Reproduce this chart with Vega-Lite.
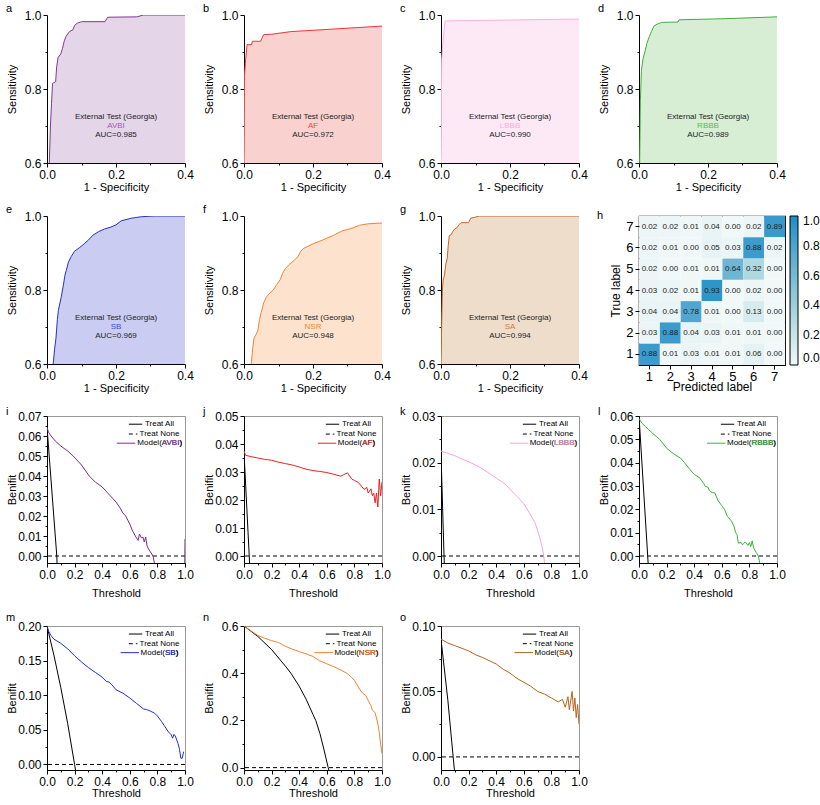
{
"$schema": "https://vega.github.io/schema/vega-lite/v6.json",
"background": "white",
"padding": {"left": 5, "top": 3, "right": 0, "bottom": 0},
"columns": 4,
"align": "each",
"spacing": {"row": 12, "column": 8},
"resolve": {"scale": {"color": "independent"}, "legend": {"color": "independent"}},
"datasets": {
"roc": [
{"p":"a","x":0.0067,"y":0.6},{"p":"a","x":0.01,"y":0.7},{"p":"a","x":0.013,"y":0.76},{"p":"a","x":0.016,"y":0.815},{"p":"a","x":0.025,"y":0.82},{"p":"a","x":0.028,"y":0.86},{"p":"a","x":0.032,"y":0.885},{"p":"a","x":0.04,"y":0.895},{"p":"a","x":0.045,"y":0.91},{"p":"a","x":0.05,"y":0.93},{"p":"a","x":0.055,"y":0.942},{"p":"a","x":0.065,"y":0.955},{"p":"a","x":0.075,"y":0.96},{"p":"a","x":0.08,"y":0.972},{"p":"a","x":0.088,"y":0.978},{"p":"a","x":0.1,"y":0.982},{"p":"a","x":0.168,"y":0.982},{"p":"a","x":0.176,"y":0.994},{"p":"a","x":0.26,"y":0.995},{"p":"a","x":0.28,"y":1.0},{"p":"a","x":0.4,"y":1.0},
{"p":"b","x":0,"y":0.6},{"p":"b","x":0.001,"y":0.83},{"p":"b","x":0.004,"y":0.87},{"p":"b","x":0.007,"y":0.9},{"p":"b","x":0.009,"y":0.92},{"p":"b","x":0.022,"y":0.92},{"p":"b","x":0.024,"y":0.929},{"p":"b","x":0.048,"y":0.929},{"p":"b","x":0.057,"y":0.947},{"p":"b","x":0.08,"y":0.948},{"p":"b","x":0.135,"y":0.955},{"p":"b","x":0.4,"y":0.97},
{"p":"c","x":0,"y":0.6},{"p":"c","x":0.002,"y":0.88},{"p":"c","x":0.006,"y":0.93},{"p":"c","x":0.012,"y":0.984},{"p":"c","x":0.4,"y":0.989},
{"p":"d","x":0.002,"y":0.6},{"p":"d","x":0.004,"y":0.77},{"p":"d","x":0.007,"y":0.85},{"p":"d","x":0.012,"y":0.883},{"p":"d","x":0.017,"y":0.9},{"p":"d","x":0.023,"y":0.924},{"p":"d","x":0.03,"y":0.942},{"p":"d","x":0.036,"y":0.955},{"p":"d","x":0.043,"y":0.97},{"p":"d","x":0.052,"y":0.975},{"p":"d","x":0.065,"y":0.98},{"p":"d","x":0.113,"y":0.981},{"p":"d","x":0.116,"y":0.987},{"p":"d","x":0.25,"y":0.99},{"p":"d","x":0.4,"y":0.995},
{"p":"e","x":0.018,"y":0.6},{"p":"e","x":0.022,"y":0.64},{"p":"e","x":0.026,"y":0.67},{"p":"e","x":0.03,"y":0.72},{"p":"e","x":0.033,"y":0.745},{"p":"e","x":0.041,"y":0.78},{"p":"e","x":0.048,"y":0.816},{"p":"e","x":0.052,"y":0.84},{"p":"e","x":0.056,"y":0.853},{"p":"e","x":0.062,"y":0.875},{"p":"e","x":0.07,"y":0.89},{"p":"e","x":0.08,"y":0.905},{"p":"e","x":0.095,"y":0.915},{"p":"e","x":0.108,"y":0.925},{"p":"e","x":0.12,"y":0.935},{"p":"e","x":0.133,"y":0.948},{"p":"e","x":0.15,"y":0.958},{"p":"e","x":0.167,"y":0.965},{"p":"e","x":0.185,"y":0.97},{"p":"e","x":0.2,"y":0.976},{"p":"e","x":0.215,"y":0.987},{"p":"e","x":0.244,"y":0.994},{"p":"e","x":0.273,"y":0.998},{"p":"e","x":0.31,"y":1.0},{"p":"e","x":0.4,"y":1.0},
{"p":"f","x":0.021,"y":0.6},{"p":"f","x":0.025,"y":0.64},{"p":"f","x":0.029,"y":0.67},{"p":"f","x":0.035,"y":0.68},{"p":"f","x":0.04,"y":0.69},{"p":"f","x":0.045,"y":0.72},{"p":"f","x":0.05,"y":0.74},{"p":"f","x":0.057,"y":0.765},{"p":"f","x":0.064,"y":0.78},{"p":"f","x":0.075,"y":0.792},{"p":"f","x":0.085,"y":0.8},{"p":"f","x":0.095,"y":0.815},{"p":"f","x":0.105,"y":0.828},{"p":"f","x":0.112,"y":0.845},{"p":"f","x":0.12,"y":0.858},{"p":"f","x":0.13,"y":0.868},{"p":"f","x":0.145,"y":0.88},{"p":"f","x":0.156,"y":0.89},{"p":"f","x":0.165,"y":0.905},{"p":"f","x":0.172,"y":0.912},{"p":"f","x":0.185,"y":0.918},{"p":"f","x":0.2,"y":0.925},{"p":"f","x":0.22,"y":0.932},{"p":"f","x":0.24,"y":0.94},{"p":"f","x":0.26,"y":0.948},{"p":"f","x":0.285,"y":0.96},{"p":"f","x":0.31,"y":0.966},{"p":"f","x":0.335,"y":0.975},{"p":"f","x":0.36,"y":0.979},{"p":"f","x":0.4,"y":0.981},
{"p":"g","x":0,"y":0.6},{"p":"g","x":0.002,"y":0.71},{"p":"g","x":0.004,"y":0.8},{"p":"g","x":0.006,"y":0.825},{"p":"g","x":0.01,"y":0.84},{"p":"g","x":0.014,"y":0.87},{"p":"g","x":0.018,"y":0.885},{"p":"g","x":0.021,"y":0.92},{"p":"g","x":0.024,"y":0.947},{"p":"g","x":0.03,"y":0.95},{"p":"g","x":0.034,"y":0.958},{"p":"g","x":0.04,"y":0.965},{"p":"g","x":0.046,"y":0.968},{"p":"g","x":0.052,"y":0.976},{"p":"g","x":0.058,"y":0.982},{"p":"g","x":0.08,"y":0.982},{"p":"g","x":0.086,"y":0.994},{"p":"g","x":0.1,"y":0.997},{"p":"g","x":0.11,"y":1.0},{"p":"g","x":0.4,"y":1.0}
],
"dca": [
{"p":"i","s":"a","t":0,"nb":0.0645},{"p":"i","s":"a","t":0.071,"nb":0},{"p":"i","s":"a","t":0.073,"nb":-0.004},
{"p":"i","s":"m","t":0,"nb":0.0645},{"p":"i","s":"m","t":0.01,"nb":0.062},{"p":"i","s":"m","t":0.03,"nb":0.06},{"p":"i","s":"m","t":0.06,"nb":0.0575},{"p":"i","s":"m","t":0.1,"nb":0.055},{"p":"i","s":"m","t":0.15,"nb":0.0525},{"p":"i","s":"m","t":0.19,"nb":0.05},{"p":"i","s":"m","t":0.25,"nb":0.0455},{"p":"i","s":"m","t":0.306,"nb":0.04},{"p":"i","s":"m","t":0.35,"nb":0.037},{"p":"i","s":"m","t":0.4,"nb":0.0345},{"p":"i","s":"m","t":0.46,"nb":0.03},{"p":"i","s":"m","t":0.5,"nb":0.027},{"p":"i","s":"m","t":0.53,"nb":0.024},{"p":"i","s":"m","t":0.55,"nb":0.0215},{"p":"i","s":"m","t":0.57,"nb":0.02},{"p":"i","s":"m","t":0.6,"nb":0.016},{"p":"i","s":"m","t":0.62,"nb":0.0125},{"p":"i","s":"m","t":0.64,"nb":0.01},{"p":"i","s":"m","t":0.66,"nb":0.0078},{"p":"i","s":"m","t":0.67,"nb":0.011},{"p":"i","s":"m","t":0.685,"nb":0.009},{"p":"i","s":"m","t":0.695,"nb":0.0095},{"p":"i","s":"m","t":0.705,"nb":0.007},{"p":"i","s":"m","t":0.715,"nb":0.0095},{"p":"i","s":"m","t":0.725,"nb":0.005},{"p":"i","s":"m","t":0.74,"nb":0.003},{"p":"i","s":"m","t":0.76,"nb":0.001},{"p":"i","s":"m","t":0.77,"nb":-0.0005},{"p":"i","s":"m","t":0.78,"nb":-0.004},{"p":"i","s":"m","t":0.998,"nb":-0.004},{"p":"i","s":"m","t":1.0,"nb":0.0085},
{"p":"j","s":"a","t":0,"nb":0.037},{"p":"j","s":"a","t":0.038,"nb":0},{"p":"j","s":"a","t":0.042,"nb":-0.004},
{"p":"j","s":"m","t":0,"nb":0.0375},{"p":"j","s":"m","t":0.01,"nb":0.036},{"p":"j","s":"m","t":0.05,"nb":0.0355},{"p":"j","s":"m","t":0.1,"nb":0.035},{"p":"j","s":"m","t":0.15,"nb":0.0345},{"p":"j","s":"m","t":0.2,"nb":0.0342},{"p":"j","s":"m","t":0.25,"nb":0.0335},{"p":"j","s":"m","t":0.3,"nb":0.033},{"p":"j","s":"m","t":0.35,"nb":0.0325},{"p":"j","s":"m","t":0.4,"nb":0.0318},{"p":"j","s":"m","t":0.45,"nb":0.031},{"p":"j","s":"m","t":0.5,"nb":0.0305},{"p":"j","s":"m","t":0.55,"nb":0.0302},{"p":"j","s":"m","t":0.6,"nb":0.0298},{"p":"j","s":"m","t":0.65,"nb":0.0292},{"p":"j","s":"m","t":0.7,"nb":0.0285},{"p":"j","s":"m","t":0.72,"nb":0.029},{"p":"j","s":"m","t":0.75,"nb":0.0297},{"p":"j","s":"m","t":0.78,"nb":0.0275},{"p":"j","s":"m","t":0.8,"nb":0.027},{"p":"j","s":"m","t":0.83,"nb":0.0262},{"p":"j","s":"m","t":0.85,"nb":0.025},{"p":"j","s":"m","t":0.87,"nb":0.0238},{"p":"j","s":"m","t":0.89,"nb":0.0245},{"p":"j","s":"m","t":0.9,"nb":0.0225},{"p":"j","s":"m","t":0.92,"nb":0.024},{"p":"j","s":"m","t":0.93,"nb":0.0215},{"p":"j","s":"m","t":0.94,"nb":0.0225},{"p":"j","s":"m","t":0.95,"nb":0.019},{"p":"j","s":"m","t":0.96,"nb":0.0225},{"p":"j","s":"m","t":0.97,"nb":0.0175},{"p":"j","s":"m","t":0.98,"nb":0.0275},{"p":"j","s":"m","t":0.99,"nb":0.0215},{"p":"j","s":"m","t":1.0,"nb":0.0265},
{"p":"k","s":"a","t":0,"nb":0.022},{"p":"k","s":"a","t":0.022,"nb":0},{"p":"k","s":"a","t":0.024,"nb":-0.002},
{"p":"k","s":"m","t":0,"nb":0.0225},{"p":"k","s":"m","t":0.05,"nb":0.022},{"p":"k","s":"m","t":0.1,"nb":0.0215},{"p":"k","s":"m","t":0.15,"nb":0.0208},{"p":"k","s":"m","t":0.2,"nb":0.0202},{"p":"k","s":"m","t":0.25,"nb":0.0195},{"p":"k","s":"m","t":0.3,"nb":0.0187},{"p":"k","s":"m","t":0.35,"nb":0.0177},{"p":"k","s":"m","t":0.4,"nb":0.0167},{"p":"k","s":"m","t":0.45,"nb":0.0157},{"p":"k","s":"m","t":0.48,"nb":0.015},{"p":"k","s":"m","t":0.5,"nb":0.0143},{"p":"k","s":"m","t":0.55,"nb":0.0128},{"p":"k","s":"m","t":0.6,"nb":0.0112},{"p":"k","s":"m","t":0.65,"nb":0.0088},{"p":"k","s":"m","t":0.68,"nb":0.0072},{"p":"k","s":"m","t":0.7,"nb":0.0055},{"p":"k","s":"m","t":0.72,"nb":0.0035},{"p":"k","s":"m","t":0.735,"nb":0.0015},{"p":"k","s":"m","t":0.745,"nb":0},{"p":"k","s":"m","t":0.75,"nb":-0.0015},
{"p":"l","s":"a","t":0,"nb":0.06},{"p":"l","s":"a","t":0.063,"nb":0},{"p":"l","s":"a","t":0.067,"nb":-0.004},
{"p":"l","s":"m","t":0,"nb":0.059},{"p":"l","s":"m","t":0.02,"nb":0.057},{"p":"l","s":"m","t":0.05,"nb":0.0553},{"p":"l","s":"m","t":0.1,"nb":0.0525},{"p":"l","s":"m","t":0.15,"nb":0.05},{"p":"l","s":"m","t":0.2,"nb":0.0462},{"p":"l","s":"m","t":0.25,"nb":0.0438},{"p":"l","s":"m","t":0.3,"nb":0.042},{"p":"l","s":"m","t":0.33,"nb":0.04},{"p":"l","s":"m","t":0.37,"nb":0.037},{"p":"l","s":"m","t":0.4,"nb":0.035},{"p":"l","s":"m","t":0.44,"nb":0.0335},{"p":"l","s":"m","t":0.47,"nb":0.031},{"p":"l","s":"m","t":0.48,"nb":0.0298},{"p":"l","s":"m","t":0.5,"nb":0.0295},{"p":"l","s":"m","t":0.51,"nb":0.028},{"p":"l","s":"m","t":0.53,"nb":0.0272},{"p":"l","s":"m","t":0.55,"nb":0.027},{"p":"l","s":"m","t":0.57,"nb":0.024},{"p":"l","s":"m","t":0.6,"nb":0.0215},{"p":"l","s":"m","t":0.62,"nb":0.02},{"p":"l","s":"m","t":0.64,"nb":0.017},{"p":"l","s":"m","t":0.67,"nb":0.015},{"p":"l","s":"m","t":0.69,"nb":0.0125},{"p":"l","s":"m","t":0.7,"nb":0.01},{"p":"l","s":"m","t":0.71,"nb":0.0092},{"p":"l","s":"m","t":0.72,"nb":0.0055},{"p":"l","s":"m","t":0.74,"nb":0.0058},{"p":"l","s":"m","t":0.75,"nb":0.0048},{"p":"l","s":"m","t":0.77,"nb":0.006},{"p":"l","s":"m","t":0.79,"nb":0.0045},{"p":"l","s":"m","t":0.8,"nb":0.0058},{"p":"l","s":"m","t":0.81,"nb":0.004},{"p":"l","s":"m","t":0.82,"nb":0.0065},{"p":"l","s":"m","t":0.83,"nb":0.0035},{"p":"l","s":"m","t":0.85,"nb":0.0015},{"p":"l","s":"m","t":0.865,"nb":0},{"p":"l","s":"m","t":0.875,"nb":-0.003},
{"p":"m","s":"a","t":0,"nb":0.2},{"p":"m","s":"a","t":0.05,"nb":0.158},{"p":"m","s":"a","t":0.1,"nb":0.111},{"p":"m","s":"a","t":0.15,"nb":0.059},{"p":"m","s":"a","t":0.2,"nb":0},{"p":"m","s":"a","t":0.21,"nb":-0.0127},
{"p":"m","s":"m","t":0,"nb":0.2},{"p":"m","s":"m","t":0.01,"nb":0.193},{"p":"m","s":"m","t":0.03,"nb":0.186},{"p":"m","s":"m","t":0.05,"nb":0.181},{"p":"m","s":"m","t":0.1,"nb":0.175},{"p":"m","s":"m","t":0.15,"nb":0.167},{"p":"m","s":"m","t":0.2,"nb":0.157},{"p":"m","s":"m","t":0.25,"nb":0.148},{"p":"m","s":"m","t":0.3,"nb":0.14},{"p":"m","s":"m","t":0.35,"nb":0.133},{"p":"m","s":"m","t":0.4,"nb":0.126},{"p":"m","s":"m","t":0.43,"nb":0.12},{"p":"m","s":"m","t":0.45,"nb":0.119},{"p":"m","s":"m","t":0.47,"nb":0.115},{"p":"m","s":"m","t":0.5,"nb":0.108},{"p":"m","s":"m","t":0.55,"nb":0.103},{"p":"m","s":"m","t":0.6,"nb":0.096},{"p":"m","s":"m","t":0.65,"nb":0.088},{"p":"m","s":"m","t":0.7,"nb":0.08},{"p":"m","s":"m","t":0.72,"nb":0.0795},{"p":"m","s":"m","t":0.75,"nb":0.077},{"p":"m","s":"m","t":0.78,"nb":0.074},{"p":"m","s":"m","t":0.8,"nb":0.07},{"p":"m","s":"m","t":0.83,"nb":0.062},{"p":"m","s":"m","t":0.85,"nb":0.056},{"p":"m","s":"m","t":0.88,"nb":0.047},{"p":"m","s":"m","t":0.9,"nb":0.043},{"p":"m","s":"m","t":0.91,"nb":0.038},{"p":"m","s":"m","t":0.92,"nb":0.0435},{"p":"m","s":"m","t":0.93,"nb":0.041},{"p":"m","s":"m","t":0.95,"nb":0.03},{"p":"m","s":"m","t":0.96,"nb":0.022},{"p":"m","s":"m","t":0.97,"nb":0.009},{"p":"m","s":"m","t":0.98,"nb":0.009},{"p":"m","s":"m","t":0.99,"nb":0.0185},
{"p":"n","s":"a","t":0,"nb":0.6},{"p":"n","s":"a","t":0.1,"nb":0.556},{"p":"n","s":"a","t":0.2,"nb":0.5},{"p":"n","s":"a","t":0.3,"nb":0.43},{"p":"n","s":"a","t":0.34,"nb":0.4},{"p":"n","s":"a","t":0.4,"nb":0.345},{"p":"n","s":"a","t":0.45,"nb":0.29},{"p":"n","s":"a","t":0.5,"nb":0.225},{"p":"n","s":"a","t":0.52,"nb":0.2},{"p":"n","s":"a","t":0.55,"nb":0.145},{"p":"n","s":"a","t":0.58,"nb":0.075},{"p":"n","s":"a","t":0.61,"nb":0},{"p":"n","s":"a","t":0.615,"nb":-0.01},
{"p":"n","s":"m","t":0,"nb":0.6},{"p":"n","s":"m","t":0.05,"nb":0.58},{"p":"n","s":"m","t":0.1,"nb":0.56},{"p":"n","s":"m","t":0.15,"nb":0.548},{"p":"n","s":"m","t":0.2,"nb":0.538},{"p":"n","s":"m","t":0.25,"nb":0.53},{"p":"n","s":"m","t":0.3,"nb":0.514},{"p":"n","s":"m","t":0.35,"nb":0.502},{"p":"n","s":"m","t":0.4,"nb":0.492},{"p":"n","s":"m","t":0.45,"nb":0.482},{"p":"n","s":"m","t":0.5,"nb":0.471},{"p":"n","s":"m","t":0.55,"nb":0.452},{"p":"n","s":"m","t":0.6,"nb":0.44},{"p":"n","s":"m","t":0.65,"nb":0.428},{"p":"n","s":"m","t":0.7,"nb":0.414},{"p":"n","s":"m","t":0.75,"nb":0.398},{"p":"n","s":"m","t":0.78,"nb":0.382},{"p":"n","s":"m","t":0.8,"nb":0.37},{"p":"n","s":"m","t":0.82,"nb":0.35},{"p":"n","s":"m","t":0.84,"nb":0.33},{"p":"n","s":"m","t":0.86,"nb":0.315},{"p":"n","s":"m","t":0.88,"nb":0.307},{"p":"n","s":"m","t":0.9,"nb":0.285},{"p":"n","s":"m","t":0.92,"nb":0.262},{"p":"n","s":"m","t":0.93,"nb":0.245},{"p":"n","s":"m","t":0.95,"nb":0.232},{"p":"n","s":"m","t":0.96,"nb":0.21},{"p":"n","s":"m","t":0.97,"nb":0.185},{"p":"n","s":"m","t":0.98,"nb":0.15},{"p":"n","s":"m","t":0.99,"nb":0.1},{"p":"n","s":"m","t":1.0,"nb":0.06},
{"p":"o","s":"a","t":0,"nb":0.09},{"p":"o","s":"a","t":0.05,"nb":0.043},{"p":"o","s":"a","t":0.088,"nb":0},{"p":"o","s":"a","t":0.1,"nb":-0.013},
{"p":"o","s":"m","t":0,"nb":0.09},{"p":"o","s":"m","t":0.05,"nb":0.087},{"p":"o","s":"m","t":0.1,"nb":0.085},{"p":"o","s":"m","t":0.15,"nb":0.083},{"p":"o","s":"m","t":0.2,"nb":0.081},{"p":"o","s":"m","t":0.25,"nb":0.078},{"p":"o","s":"m","t":0.3,"nb":0.076},{"p":"o","s":"m","t":0.35,"nb":0.0735},{"p":"o","s":"m","t":0.4,"nb":0.071},{"p":"o","s":"m","t":0.45,"nb":0.067},{"p":"o","s":"m","t":0.5,"nb":0.064},{"p":"o","s":"m","t":0.55,"nb":0.06},{"p":"o","s":"m","t":0.6,"nb":0.057},{"p":"o","s":"m","t":0.65,"nb":0.054},{"p":"o","s":"m","t":0.7,"nb":0.05},{"p":"o","s":"m","t":0.75,"nb":0.048},{"p":"o","s":"m","t":0.8,"nb":0.045},{"p":"o","s":"m","t":0.85,"nb":0.042},{"p":"o","s":"m","t":0.88,"nb":0.044},{"p":"o","s":"m","t":0.9,"nb":0.038},{"p":"o","s":"m","t":0.92,"nb":0.046},{"p":"o","s":"m","t":0.93,"nb":0.036},{"p":"o","s":"m","t":0.95,"nb":0.05},{"p":"o","s":"m","t":0.96,"nb":0.035},{"p":"o","s":"m","t":0.97,"nb":0.045},{"p":"o","s":"m","t":0.98,"nb":0.03},{"p":"o","s":"m","t":0.99,"nb":0.04},{"p":"o","s":"m","t":1.0,"nb":0.025}
],
"cm": [
{"actual":7,"pred":1,"v":0.02},{"actual":7,"pred":2,"v":0.02},{"actual":7,"pred":3,"v":0.01},{"actual":7,"pred":4,"v":0.04},{"actual":7,"pred":5,"v":0.0},{"actual":7,"pred":6,"v":0.02},{"actual":7,"pred":7,"v":0.89},
{"actual":6,"pred":1,"v":0.02},{"actual":6,"pred":2,"v":0.01},{"actual":6,"pred":3,"v":0.0},{"actual":6,"pred":4,"v":0.05},{"actual":6,"pred":5,"v":0.03},{"actual":6,"pred":6,"v":0.88},{"actual":6,"pred":7,"v":0.02},
{"actual":5,"pred":1,"v":0.02},{"actual":5,"pred":2,"v":0.0},{"actual":5,"pred":3,"v":0.01},{"actual":5,"pred":4,"v":0.01},{"actual":5,"pred":5,"v":0.64},{"actual":5,"pred":6,"v":0.32},{"actual":5,"pred":7,"v":0.0},
{"actual":4,"pred":1,"v":0.03},{"actual":4,"pred":2,"v":0.02},{"actual":4,"pred":3,"v":0.01},{"actual":4,"pred":4,"v":0.93},{"actual":4,"pred":5,"v":0.0},{"actual":4,"pred":6,"v":0.02},{"actual":4,"pred":7,"v":0.0},
{"actual":3,"pred":1,"v":0.04},{"actual":3,"pred":2,"v":0.04},{"actual":3,"pred":3,"v":0.78},{"actual":3,"pred":4,"v":0.01},{"actual":3,"pred":5,"v":0.0},{"actual":3,"pred":6,"v":0.13},{"actual":3,"pred":7,"v":0.0},
{"actual":2,"pred":1,"v":0.03},{"actual":2,"pred":2,"v":0.88},{"actual":2,"pred":3,"v":0.04},{"actual":2,"pred":4,"v":0.03},{"actual":2,"pred":5,"v":0.01},{"actual":2,"pred":6,"v":0.01},{"actual":2,"pred":7,"v":0.0},
{"actual":1,"pred":1,"v":0.88},{"actual":1,"pred":2,"v":0.01},{"actual":1,"pred":3,"v":0.03},{"actual":1,"pred":4,"v":0.01},{"actual":1,"pred":5,"v":0.01},{"actual":1,"pred":6,"v":0.06},{"actual":1,"pred":7,"v":0.0}
]
},
"concat": [
{"title": {"text": "a", "dx": -41, "offset": -5}, "width": 138, "height": 148, "layer": [
 {"data": {"name": "roc"}, "transform": [{"filter": "datum.p=='a'"}], "mark": {"type": "area", "color": "#E4D5E8", "opacity": 1, "clip": true}, "encoding": {"x": {"field": "x", "type": "quantitative", "scale": {"domain": [0, 0.4], "nice": false}, "axis": {"title": "1 - Specificity", "tickCount": 100, "values": [0,0.1,0.2,0.3,0.4], "labelExpr": "round(datum.value*10)%2==0 ? format(datum.value,'.1f') : ''", "tickSize": {"condition": {"test": "round(datum.value*10)%2==1", "value": 2}, "value": 4}}}, "y": {"field": "y", "type": "quantitative", "scale": {"domain": [0.6, 1], "nice": false}, "axis": {"title": "Sensitivity", "tickCount": 100, "values": [0.6,0.7,0.8,0.9,1], "labelExpr": "round(datum.value*10)%2==0 ? format(datum.value,'.1f') : ''", "tickSize": {"condition": {"test": "round(datum.value*10)%2==1", "value": 2}, "value": 4}}}, "y2": {"datum": 0.6}}},
 {"data": {"name": "roc"}, "transform": [{"filter": "datum.p=='a'"}], "mark": {"type": "line", "color": "#7D3C8F", "strokeWidth": 1, "clip": true}, "encoding": {"x": {"field": "x", "type": "quantitative"}, "y": {"field": "y", "type": "quantitative"}}},
 {"data": {"values": [{}]}, "mark": {"type": "text", "text": "External Test (Georgia)", "fontSize": 8, "color": "#222", "baseline": "middle"}, "encoding": {"x": {"datum": 0.2}, "y": {"datum": 0.723}}},
 {"data": {"values": [{}]}, "mark": {"type": "text", "text": "AVBI", "fontSize": 8, "color": "#A05CB0", "baseline": "middle"}, "encoding": {"x": {"datum": 0.2}, "y": {"datum": 0.699}}},
 {"data": {"values": [{}]}, "mark": {"type": "text", "text": "AUC=0.985", "fontSize": 8, "color": "#222", "baseline": "middle"}, "encoding": {"x": {"datum": 0.2}, "y": {"datum": 0.675}}}
]},
{"title": {"text": "b", "dx": -41, "offset": -5}, "width": 138, "height": 148, "layer": [
 {"data": {"name": "roc"}, "transform": [{"filter": "datum.p=='b'"}], "mark": {"type": "area", "color": "#F9D2D0", "opacity": 1, "clip": true}, "encoding": {"x": {"field": "x", "type": "quantitative", "scale": {"domain": [0, 0.4], "nice": false}, "axis": {"title": "1 - Specificity", "tickCount": 100, "values": [0,0.1,0.2,0.3,0.4], "labelExpr": "round(datum.value*10)%2==0 ? format(datum.value,'.1f') : ''", "tickSize": {"condition": {"test": "round(datum.value*10)%2==1", "value": 2}, "value": 4}}}, "y": {"field": "y", "type": "quantitative", "scale": {"domain": [0.6, 1], "nice": false}, "axis": {"title": "Sensitivity", "tickCount": 100, "values": [0.6,0.7,0.8,0.9,1], "labelExpr": "round(datum.value*10)%2==0 ? format(datum.value,'.1f') : ''", "tickSize": {"condition": {"test": "round(datum.value*10)%2==1", "value": 2}, "value": 4}}}, "y2": {"datum": 0.6}}},
 {"data": {"name": "roc"}, "transform": [{"filter": "datum.p=='b'"}], "mark": {"type": "line", "color": "#EF3434", "strokeWidth": 1, "clip": true}, "encoding": {"x": {"field": "x", "type": "quantitative"}, "y": {"field": "y", "type": "quantitative"}}},
 {"data": {"values": [{}]}, "mark": {"type": "text", "text": "External Test (Georgia)", "fontSize": 8, "color": "#222", "baseline": "middle"}, "encoding": {"x": {"datum": 0.2}, "y": {"datum": 0.723}}},
 {"data": {"values": [{}]}, "mark": {"type": "text", "text": "AF", "fontSize": 8, "color": "#F04848", "baseline": "middle"}, "encoding": {"x": {"datum": 0.2}, "y": {"datum": 0.699}}},
 {"data": {"values": [{}]}, "mark": {"type": "text", "text": "AUC=0.972", "fontSize": 8, "color": "#222", "baseline": "middle"}, "encoding": {"x": {"datum": 0.2}, "y": {"datum": 0.675}}}
]},
{"title": {"text": "c", "dx": -41, "offset": -5}, "width": 138, "height": 148, "layer": [
 {"data": {"name": "roc"}, "transform": [{"filter": "datum.p=='c'"}], "mark": {"type": "area", "color": "#FDE9F5", "opacity": 1, "clip": true}, "encoding": {"x": {"field": "x", "type": "quantitative", "scale": {"domain": [0, 0.4], "nice": false}, "axis": {"title": "1 - Specificity", "tickCount": 100, "values": [0,0.1,0.2,0.3,0.4], "labelExpr": "round(datum.value*10)%2==0 ? format(datum.value,'.1f') : ''", "tickSize": {"condition": {"test": "round(datum.value*10)%2==1", "value": 2}, "value": 4}}}, "y": {"field": "y", "type": "quantitative", "scale": {"domain": [0.6, 1], "nice": false}, "axis": {"title": "Sensitivity", "tickCount": 100, "values": [0.6,0.7,0.8,0.9,1], "labelExpr": "round(datum.value*10)%2==0 ? format(datum.value,'.1f') : ''", "tickSize": {"condition": {"test": "round(datum.value*10)%2==1", "value": 2}, "value": 4}}}, "y2": {"datum": 0.6}}},
 {"data": {"name": "roc"}, "transform": [{"filter": "datum.p=='c'"}], "mark": {"type": "line", "color": "#F6B2DB", "strokeWidth": 1, "clip": true}, "encoding": {"x": {"field": "x", "type": "quantitative"}, "y": {"field": "y", "type": "quantitative"}}},
 {"data": {"values": [{}]}, "mark": {"type": "text", "text": "External Test (Georgia)", "fontSize": 8, "color": "#222", "baseline": "middle"}, "encoding": {"x": {"datum": 0.2}, "y": {"datum": 0.723}}},
 {"data": {"values": [{}]}, "mark": {"type": "text", "text": "LBBB", "fontSize": 8, "color": "#F5AED8", "baseline": "middle"}, "encoding": {"x": {"datum": 0.2}, "y": {"datum": 0.699}}},
 {"data": {"values": [{}]}, "mark": {"type": "text", "text": "AUC=0.990", "fontSize": 8, "color": "#222", "baseline": "middle"}, "encoding": {"x": {"datum": 0.2}, "y": {"datum": 0.675}}}
]},
{"title": {"text": "d", "dx": -41, "offset": -5}, "width": 138, "height": 148, "layer": [
 {"data": {"name": "roc"}, "transform": [{"filter": "datum.p=='d'"}], "mark": {"type": "area", "color": "#D7EED5", "opacity": 1, "clip": true}, "encoding": {"x": {"field": "x", "type": "quantitative", "scale": {"domain": [0, 0.4], "nice": false}, "axis": {"title": "1 - Specificity", "tickCount": 100, "values": [0,0.1,0.2,0.3,0.4], "labelExpr": "round(datum.value*10)%2==0 ? format(datum.value,'.1f') : ''", "tickSize": {"condition": {"test": "round(datum.value*10)%2==1", "value": 2}, "value": 4}}}, "y": {"field": "y", "type": "quantitative", "scale": {"domain": [0.6, 1], "nice": false}, "axis": {"title": "Sensitivity", "tickCount": 100, "values": [0.6,0.7,0.8,0.9,1], "labelExpr": "round(datum.value*10)%2==0 ? format(datum.value,'.1f') : ''", "tickSize": {"condition": {"test": "round(datum.value*10)%2==1", "value": 2}, "value": 4}}}, "y2": {"datum": 0.6}}},
 {"data": {"name": "roc"}, "transform": [{"filter": "datum.p=='d'"}], "mark": {"type": "line", "color": "#43AE3C", "strokeWidth": 1, "clip": true}, "encoding": {"x": {"field": "x", "type": "quantitative"}, "y": {"field": "y", "type": "quantitative"}}},
 {"data": {"values": [{}]}, "mark": {"type": "text", "text": "External Test (Georgia)", "fontSize": 8, "color": "#222", "baseline": "middle"}, "encoding": {"x": {"datum": 0.2}, "y": {"datum": 0.723}}},
 {"data": {"values": [{}]}, "mark": {"type": "text", "text": "RBBB", "fontSize": 8, "color": "#52C04B", "baseline": "middle"}, "encoding": {"x": {"datum": 0.2}, "y": {"datum": 0.699}}},
 {"data": {"values": [{}]}, "mark": {"type": "text", "text": "AUC=0.989", "fontSize": 8, "color": "#222", "baseline": "middle"}, "encoding": {"x": {"datum": 0.2}, "y": {"datum": 0.675}}}
]},
{"title": {"text": "e", "dx": -41, "offset": -5}, "width": 138, "height": 148, "layer": [
 {"data": {"name": "roc"}, "transform": [{"filter": "datum.p=='e'"}], "mark": {"type": "area", "color": "#CACDF1", "opacity": 1, "clip": true}, "encoding": {"x": {"field": "x", "type": "quantitative", "scale": {"domain": [0, 0.4], "nice": false}, "axis": {"title": "1 - Specificity", "tickCount": 100, "values": [0,0.1,0.2,0.3,0.4], "labelExpr": "round(datum.value*10)%2==0 ? format(datum.value,'.1f') : ''", "tickSize": {"condition": {"test": "round(datum.value*10)%2==1", "value": 2}, "value": 4}}}, "y": {"field": "y", "type": "quantitative", "scale": {"domain": [0.6, 1], "nice": false}, "axis": {"title": "Sensitivity", "tickCount": 100, "values": [0.6,0.7,0.8,0.9,1], "labelExpr": "round(datum.value*10)%2==0 ? format(datum.value,'.1f') : ''", "tickSize": {"condition": {"test": "round(datum.value*10)%2==1", "value": 2}, "value": 4}}}, "y2": {"datum": 0.6}}},
 {"data": {"name": "roc"}, "transform": [{"filter": "datum.p=='e'"}], "mark": {"type": "line", "color": "#2435B8", "strokeWidth": 1, "clip": true}, "encoding": {"x": {"field": "x", "type": "quantitative"}, "y": {"field": "y", "type": "quantitative"}}},
 {"data": {"values": [{}]}, "mark": {"type": "text", "text": "External Test (Georgia)", "fontSize": 8, "color": "#222", "baseline": "middle"}, "encoding": {"x": {"datum": 0.2}, "y": {"datum": 0.723}}},
 {"data": {"values": [{}]}, "mark": {"type": "text", "text": "SB", "fontSize": 8, "color": "#3C4BD0", "baseline": "middle"}, "encoding": {"x": {"datum": 0.2}, "y": {"datum": 0.699}}},
 {"data": {"values": [{}]}, "mark": {"type": "text", "text": "AUC=0.969", "fontSize": 8, "color": "#222", "baseline": "middle"}, "encoding": {"x": {"datum": 0.2}, "y": {"datum": 0.675}}}
]},
{"title": {"text": "f", "dx": -41, "offset": -5}, "width": 138, "height": 148, "layer": [
 {"data": {"name": "roc"}, "transform": [{"filter": "datum.p=='f'"}], "mark": {"type": "area", "color": "#FDE2CE", "opacity": 1, "clip": true}, "encoding": {"x": {"field": "x", "type": "quantitative", "scale": {"domain": [0, 0.4], "nice": false}, "axis": {"title": "1 - Specificity", "tickCount": 100, "values": [0,0.1,0.2,0.3,0.4], "labelExpr": "round(datum.value*10)%2==0 ? format(datum.value,'.1f') : ''", "tickSize": {"condition": {"test": "round(datum.value*10)%2==1", "value": 2}, "value": 4}}}, "y": {"field": "y", "type": "quantitative", "scale": {"domain": [0.6, 1], "nice": false}, "axis": {"title": "Sensitivity", "tickCount": 100, "values": [0.6,0.7,0.8,0.9,1], "labelExpr": "round(datum.value*10)%2==0 ? format(datum.value,'.1f') : ''", "tickSize": {"condition": {"test": "round(datum.value*10)%2==1", "value": 2}, "value": 4}}}, "y2": {"datum": 0.6}}},
 {"data": {"name": "roc"}, "transform": [{"filter": "datum.p=='f'"}], "mark": {"type": "line", "color": "#F28238", "strokeWidth": 1, "clip": true}, "encoding": {"x": {"field": "x", "type": "quantitative"}, "y": {"field": "y", "type": "quantitative"}}},
 {"data": {"values": [{}]}, "mark": {"type": "text", "text": "External Test (Georgia)", "fontSize": 8, "color": "#222", "baseline": "middle"}, "encoding": {"x": {"datum": 0.2}, "y": {"datum": 0.723}}},
 {"data": {"values": [{}]}, "mark": {"type": "text", "text": "NSR", "fontSize": 8, "color": "#F08838", "baseline": "middle"}, "encoding": {"x": {"datum": 0.2}, "y": {"datum": 0.699}}},
 {"data": {"values": [{}]}, "mark": {"type": "text", "text": "AUC=0.948", "fontSize": 8, "color": "#222", "baseline": "middle"}, "encoding": {"x": {"datum": 0.2}, "y": {"datum": 0.675}}}
]},
{"title": {"text": "g", "dx": -41, "offset": -5}, "width": 138, "height": 148, "layer": [
 {"data": {"name": "roc"}, "transform": [{"filter": "datum.p=='g'"}], "mark": {"type": "area", "color": "#EEDDCB", "opacity": 1, "clip": true}, "encoding": {"x": {"field": "x", "type": "quantitative", "scale": {"domain": [0, 0.4], "nice": false}, "axis": {"title": "1 - Specificity", "tickCount": 100, "values": [0,0.1,0.2,0.3,0.4], "labelExpr": "round(datum.value*10)%2==0 ? format(datum.value,'.1f') : ''", "tickSize": {"condition": {"test": "round(datum.value*10)%2==1", "value": 2}, "value": 4}}}, "y": {"field": "y", "type": "quantitative", "scale": {"domain": [0.6, 1], "nice": false}, "axis": {"title": "Sensitivity", "tickCount": 100, "values": [0.6,0.7,0.8,0.9,1], "labelExpr": "round(datum.value*10)%2==0 ? format(datum.value,'.1f') : ''", "tickSize": {"condition": {"test": "round(datum.value*10)%2==1", "value": 2}, "value": 4}}}, "y2": {"datum": 0.6}}},
 {"data": {"name": "roc"}, "transform": [{"filter": "datum.p=='g'"}], "mark": {"type": "line", "color": "#C0661F", "strokeWidth": 1, "clip": true}, "encoding": {"x": {"field": "x", "type": "quantitative"}, "y": {"field": "y", "type": "quantitative"}}},
 {"data": {"values": [{}]}, "mark": {"type": "text", "text": "External Test (Georgia)", "fontSize": 8, "color": "#222", "baseline": "middle"}, "encoding": {"x": {"datum": 0.2}, "y": {"datum": 0.723}}},
 {"data": {"values": [{}]}, "mark": {"type": "text", "text": "SA", "fontSize": 8, "color": "#D07B35", "baseline": "middle"}, "encoding": {"x": {"datum": 0.2}, "y": {"datum": 0.699}}},
 {"data": {"values": [{}]}, "mark": {"type": "text", "text": "AUC=0.994", "fontSize": 8, "color": "#222", "baseline": "middle"}, "encoding": {"x": {"datum": 0.2}, "y": {"datum": 0.675}}}
]},
{"title": {"text": "\u00a0\u00a0\u00a0\u00a0h", "dx": -42, "offset": -5}, "width": 146, "height": 149, "view": {"stroke": "black", "strokeWidth": 1.2}, "data": {"name": "cm"},
 "encoding": {
  "x": {"field": "pred", "type": "ordinal", "axis": {"title": "Predicted label", "labelAngle": 0, "labelFontSize": 13, "labelPadding": 1, "titleFontSize": 12, "titlePadding": -2, "domain": false}},
  "y": {"field": "actual", "type": "ordinal", "sort": "descending", "axis": {"title": "True label", "labelFontSize": 13, "titleFontSize": 12, "minExtent": 14, "maxExtent": 14, "titlePadding": 3, "domain": false}}
 },
 "layer": [
  {"mark": {"type": "rect"}, "encoding": {"color": {"field": "v", "type": "quantitative", "scale": {"domain": [0, 1], "range": ["#f1f8f8", "#188dc9"]}, "legend": {"title": null, "orient": "right", "offset": 5, "direction": "vertical", "gradientLength": 149, "gradientThickness": 8, "values": [0, 0.2, 0.4, 0.6, 0.8, 1], "tickCount": 100, "format": ".1f", "labelFontSize": 12, "labelOffset": 5, "gradientStrokeColor": "black", "gradientStrokeWidth": 1, "labelColor": "#000", "labelOverlap": false}}}},
  {"mark": {"type": "text", "fontSize": 8, "color": "#222"}, "encoding": {"text": {"field": "v", "type": "quantitative", "format": ".2f"}}}
 ]},
{"title": {"text": "i", "dx": -41, "offset": -7}, "width": 138, "height": 147, "view": {"stroke": "#999"}, "layer": [
 {"data": {"name": "dca"}, "transform": [{"filter": "datum.p=='i' && datum.s=='a'"}], "mark": {"type": "line", "color": "black", "strokeWidth": 1, "clip": true}, "encoding": {"x": {"field": "t", "type": "quantitative", "scale": {"domain": [0, 1], "nice": false}, "axis": {"title": "Threshold", "titlePadding": 7, "tickCount": 100, "values": [0,0.1,0.2,0.3,0.4,0.5,0.6,0.7,0.8,0.9,1], "labelExpr": "round(datum.value*10)%2==0 ? format(datum.value,'.1f') : ''", "tickSize": {"condition": {"test": "round(datum.value*10)%2==1", "value": 2}, "value": 4}}}, "y": {"field": "nb", "type": "quantitative", "scale": {"domain": [-0.0035, 0.07], "nice": false}, "axis": {"title": "Benifit", "tickCount": 100, "values": [0,0.005,0.01,0.015,0.02,0.025,0.03,0.035,0.04,0.045,0.05,0.055,0.06,0.065,0.07], "labelExpr": "round(datum.value*200)%2==0 ? format(datum.value,'.2f') : ''", "tickSize": {"condition": {"test": "round(datum.value*200)%2==1", "value": 2}, "value": 4}}}}},
 {"data": {"values": [{}]}, "mark": {"type": "rule", "color": "black", "strokeDash": [4, 3], "strokeWidth": 1}, "encoding": {"y": {"datum": 0}}},
 {"data": {"name": "dca"}, "transform": [{"filter": "datum.p=='i' && datum.s=='m'"}], "mark": {"type": "line", "color": "#7B2D8E", "strokeWidth": 1, "clip": true}, "encoding": {"x": {"field": "t", "type": "quantitative"}, "y": {"field": "nb", "type": "quantitative"}}},
 {"data": {"values": [{}]}, "mark": {"type": "rule", "color": "black", "strokeWidth": 1}, "encoding": {"x": {"datum": 0.593}, "x2": {"datum": 0.69}, "y": {"datum": 0.0659}}},
 {"data": {"values": [{}]}, "mark": {"type": "rule", "color": "black", "strokeWidth": 1, "strokeDash": [4, 3]}, "encoding": {"x": {"datum": 0.593}, "x2": {"datum": 0.655}, "y": {"datum": 0.061}}},
 {"data": {"values": [{}]}, "mark": {"type": "rule", "color": "#7B2D8E", "strokeWidth": 1}, "encoding": {"x": {"datum": 0.506}, "x2": {"datum": 0.64}, "y": {"datum": 0.0564}}},
 {"data": {"values": [{}]}, "mark": {"type": "text", "text": "Treat All", "fontSize": 8, "align": "center", "baseline": "middle", "color": "#000"}, "encoding": {"x": {"datum": 0.815}, "y": {"datum": 0.0659}}},
 {"data": {"values": [{}]}, "mark": {"type": "text", "text": "Treat None", "fontSize": 8, "align": "center", "baseline": "middle", "color": "#000"}, "encoding": {"x": {"datum": 0.815}, "y": {"datum": 0.061}}},
 {"data": {"values": [{}]}, "mark": {"type": "text", "text": "Model(AVBI)", "fontSize": 8, "align": "right", "baseline": "middle", "color": "#000"}, "encoding": {"x": {"datum": 0.979}, "y": {"datum": 0.0564}}},
 {"data": {"values": [{}]}, "mark": {"type": "text", "text": "AVBI)", "fontSize": 8, "align": "right", "baseline": "middle", "color": "#9B4FAE"}, "encoding": {"x": {"datum": 0.979}, "y": {"datum": 0.0564}}},
 {"data": {"values": [{}]}, "mark": {"type": "text", "text": ")", "fontSize": 8, "align": "right", "baseline": "middle", "color": "#000"}, "encoding": {"x": {"datum": 0.979}, "y": {"datum": 0.0564}}}
]},
{"title": {"text": "j", "dx": -41, "offset": -7}, "width": 138, "height": 147, "view": {"stroke": "#999"}, "layer": [
 {"data": {"name": "dca"}, "transform": [{"filter": "datum.p=='j' && datum.s=='a'"}], "mark": {"type": "line", "color": "black", "strokeWidth": 1, "clip": true}, "encoding": {"x": {"field": "t", "type": "quantitative", "scale": {"domain": [0, 1], "nice": false}, "axis": {"title": "Threshold", "titlePadding": 7, "tickCount": 100, "values": [0,0.1,0.2,0.3,0.4,0.5,0.6,0.7,0.8,0.9,1], "labelExpr": "round(datum.value*10)%2==0 ? format(datum.value,'.1f') : ''", "tickSize": {"condition": {"test": "round(datum.value*10)%2==1", "value": 2}, "value": 4}}}, "y": {"field": "nb", "type": "quantitative", "scale": {"domain": [-0.0025, 0.05], "nice": false}, "axis": {"title": "Benifit", "tickCount": 100, "values": [0,0.005,0.01,0.015,0.02,0.025,0.03,0.035,0.04,0.045,0.05], "labelExpr": "round(datum.value*200)%2==0 ? format(datum.value,'.2f') : ''", "tickSize": {"condition": {"test": "round(datum.value*200)%2==1", "value": 2}, "value": 4}}}}},
 {"data": {"values": [{}]}, "mark": {"type": "rule", "color": "black", "strokeDash": [4, 3], "strokeWidth": 1}, "encoding": {"y": {"datum": 0}}},
 {"data": {"name": "dca"}, "transform": [{"filter": "datum.p=='j' && datum.s=='m'"}], "mark": {"type": "line", "color": "#EE2020", "strokeWidth": 1, "clip": true}, "encoding": {"x": {"field": "t", "type": "quantitative"}, "y": {"field": "nb", "type": "quantitative"}}},
 {"data": {"values": [{}]}, "mark": {"type": "rule", "color": "black", "strokeWidth": 1}, "encoding": {"x": {"datum": 0.593}, "x2": {"datum": 0.69}, "y": {"datum": 0.04706}}},
 {"data": {"values": [{}]}, "mark": {"type": "rule", "color": "black", "strokeWidth": 1, "strokeDash": [4, 3]}, "encoding": {"x": {"datum": 0.593}, "x2": {"datum": 0.655}, "y": {"datum": 0.04354}}},
 {"data": {"values": [{}]}, "mark": {"type": "rule", "color": "#EE2020", "strokeWidth": 1}, "encoding": {"x": {"datum": 0.535}, "x2": {"datum": 0.669}, "y": {"datum": 0.04029}}},
 {"data": {"values": [{}]}, "mark": {"type": "text", "text": "Treat All", "fontSize": 8, "align": "center", "baseline": "middle", "color": "#000"}, "encoding": {"x": {"datum": 0.815}, "y": {"datum": 0.04706}}},
 {"data": {"values": [{}]}, "mark": {"type": "text", "text": "Treat None", "fontSize": 8, "align": "center", "baseline": "middle", "color": "#000"}, "encoding": {"x": {"datum": 0.815}, "y": {"datum": 0.04354}}},
 {"data": {"values": [{}]}, "mark": {"type": "text", "text": "Model(AF)", "fontSize": 8, "align": "right", "baseline": "middle", "color": "#000"}, "encoding": {"x": {"datum": 0.95}, "y": {"datum": 0.04029}}},
 {"data": {"values": [{}]}, "mark": {"type": "text", "text": "AF)", "fontSize": 8, "align": "right", "baseline": "middle", "color": "#EE3030"}, "encoding": {"x": {"datum": 0.95}, "y": {"datum": 0.04029}}},
 {"data": {"values": [{}]}, "mark": {"type": "text", "text": ")", "fontSize": 8, "align": "right", "baseline": "middle", "color": "#000"}, "encoding": {"x": {"datum": 0.95}, "y": {"datum": 0.04029}}}
]},
{"title": {"text": "k", "dx": -41, "offset": -7}, "width": 138, "height": 147, "view": {"stroke": "#999"}, "layer": [
 {"data": {"name": "dca"}, "transform": [{"filter": "datum.p=='k' && datum.s=='a'"}], "mark": {"type": "line", "color": "black", "strokeWidth": 1, "clip": true}, "encoding": {"x": {"field": "t", "type": "quantitative", "scale": {"domain": [0, 1], "nice": false}, "axis": {"title": "Threshold", "titlePadding": 7, "tickCount": 100, "values": [0,0.1,0.2,0.3,0.4,0.5,0.6,0.7,0.8,0.9,1], "labelExpr": "round(datum.value*10)%2==0 ? format(datum.value,'.1f') : ''", "tickSize": {"condition": {"test": "round(datum.value*10)%2==1", "value": 2}, "value": 4}}}, "y": {"field": "nb", "type": "quantitative", "scale": {"domain": [-0.0015, 0.03], "nice": false}, "axis": {"title": "Benifit", "tickCount": 100, "values": [0,0.005,0.01,0.015,0.02,0.025,0.03], "labelExpr": "round(datum.value*200)%2==0 ? format(datum.value,'.2f') : ''", "tickSize": {"condition": {"test": "round(datum.value*200)%2==1", "value": 2}, "value": 4}}}}},
 {"data": {"values": [{}]}, "mark": {"type": "rule", "color": "black", "strokeDash": [4, 3], "strokeWidth": 1}, "encoding": {"y": {"datum": 0}}},
 {"data": {"name": "dca"}, "transform": [{"filter": "datum.p=='k' && datum.s=='m'"}], "mark": {"type": "line", "color": "#F7A6D6", "strokeWidth": 1, "clip": true}, "encoding": {"x": {"field": "t", "type": "quantitative"}, "y": {"field": "nb", "type": "quantitative"}}},
 {"data": {"values": [{}]}, "mark": {"type": "rule", "color": "black", "strokeWidth": 1}, "encoding": {"x": {"datum": 0.593}, "x2": {"datum": 0.69}, "y": {"datum": 0.02824}}},
 {"data": {"values": [{}]}, "mark": {"type": "rule", "color": "black", "strokeWidth": 1, "strokeDash": [4, 3]}, "encoding": {"x": {"datum": 0.593}, "x2": {"datum": 0.655}, "y": {"datum": 0.02613}}},
 {"data": {"values": [{}]}, "mark": {"type": "rule", "color": "#F7A6D6", "strokeWidth": 1}, "encoding": {"x": {"datum": 0.498}, "x2": {"datum": 0.632}, "y": {"datum": 0.02417}}},
 {"data": {"values": [{}]}, "mark": {"type": "text", "text": "Treat All", "fontSize": 8, "align": "center", "baseline": "middle", "color": "#000"}, "encoding": {"x": {"datum": 0.815}, "y": {"datum": 0.02824}}},
 {"data": {"values": [{}]}, "mark": {"type": "text", "text": "Treat None", "fontSize": 8, "align": "center", "baseline": "middle", "color": "#000"}, "encoding": {"x": {"datum": 0.815}, "y": {"datum": 0.02613}}},
 {"data": {"values": [{}]}, "mark": {"type": "text", "text": "Model(LBBB)", "fontSize": 8, "align": "right", "baseline": "middle", "color": "#000"}, "encoding": {"x": {"datum": 0.987}, "y": {"datum": 0.02417}}},
 {"data": {"values": [{}]}, "mark": {"type": "text", "text": "LBBB)", "fontSize": 8, "align": "right", "baseline": "middle", "color": "#F7A6D6"}, "encoding": {"x": {"datum": 0.987}, "y": {"datum": 0.02417}}},
 {"data": {"values": [{}]}, "mark": {"type": "text", "text": ")", "fontSize": 8, "align": "right", "baseline": "middle", "color": "#000"}, "encoding": {"x": {"datum": 0.987}, "y": {"datum": 0.02417}}}
]},
{"title": {"text": "l", "dx": -41, "offset": -7}, "width": 138, "height": 147, "view": {"stroke": "#999"}, "layer": [
 {"data": {"name": "dca"}, "transform": [{"filter": "datum.p=='l' && datum.s=='a'"}], "mark": {"type": "line", "color": "black", "strokeWidth": 1, "clip": true}, "encoding": {"x": {"field": "t", "type": "quantitative", "scale": {"domain": [0, 1], "nice": false}, "axis": {"title": "Threshold", "titlePadding": 7, "tickCount": 100, "values": [0,0.1,0.2,0.3,0.4,0.5,0.6,0.7,0.8,0.9,1], "labelExpr": "round(datum.value*10)%2==0 ? format(datum.value,'.1f') : ''", "tickSize": {"condition": {"test": "round(datum.value*10)%2==1", "value": 2}, "value": 4}}}, "y": {"field": "nb", "type": "quantitative", "scale": {"domain": [-0.003, 0.06], "nice": false}, "axis": {"title": "Benifit", "tickCount": 100, "values": [0,0.005,0.01,0.015,0.02,0.025,0.03,0.035,0.04,0.045,0.05,0.055,0.06], "labelExpr": "round(datum.value*200)%2==0 ? format(datum.value,'.2f') : ''", "tickSize": {"condition": {"test": "round(datum.value*200)%2==1", "value": 2}, "value": 4}}}}},
 {"data": {"values": [{}]}, "mark": {"type": "rule", "color": "black", "strokeDash": [4, 3], "strokeWidth": 1}, "encoding": {"y": {"datum": 0}}},
 {"data": {"name": "dca"}, "transform": [{"filter": "datum.p=='l' && datum.s=='m'"}], "mark": {"type": "line", "color": "#3DB33D", "strokeWidth": 1, "clip": true}, "encoding": {"x": {"field": "t", "type": "quantitative"}, "y": {"field": "nb", "type": "quantitative"}}},
 {"data": {"values": [{}]}, "mark": {"type": "rule", "color": "black", "strokeWidth": 1}, "encoding": {"x": {"datum": 0.593}, "x2": {"datum": 0.69}, "y": {"datum": 0.05647}}},
 {"data": {"values": [{}]}, "mark": {"type": "rule", "color": "black", "strokeWidth": 1, "strokeDash": [4, 3]}, "encoding": {"x": {"datum": 0.593}, "x2": {"datum": 0.655}, "y": {"datum": 0.05225}}},
 {"data": {"values": [{}]}, "mark": {"type": "rule", "color": "#3DB33D", "strokeWidth": 1}, "encoding": {"x": {"datum": 0.493}, "x2": {"datum": 0.627}, "y": {"datum": 0.04834}}},
 {"data": {"values": [{}]}, "mark": {"type": "text", "text": "Treat All", "fontSize": 8, "align": "center", "baseline": "middle", "color": "#000"}, "encoding": {"x": {"datum": 0.815}, "y": {"datum": 0.05647}}},
 {"data": {"values": [{}]}, "mark": {"type": "text", "text": "Treat None", "fontSize": 8, "align": "center", "baseline": "middle", "color": "#000"}, "encoding": {"x": {"datum": 0.815}, "y": {"datum": 0.05225}}},
 {"data": {"values": [{}]}, "mark": {"type": "text", "text": "Model(RBBB)", "fontSize": 8, "align": "right", "baseline": "middle", "color": "#000"}, "encoding": {"x": {"datum": 0.992}, "y": {"datum": 0.04834}}},
 {"data": {"values": [{}]}, "mark": {"type": "text", "text": "RBBB)", "fontSize": 8, "align": "right", "baseline": "middle", "color": "#47B847"}, "encoding": {"x": {"datum": 0.992}, "y": {"datum": 0.04834}}},
 {"data": {"values": [{}]}, "mark": {"type": "text", "text": ")", "fontSize": 8, "align": "right", "baseline": "middle", "color": "#000"}, "encoding": {"x": {"datum": 0.992}, "y": {"datum": 0.04834}}}
]},
{"title": {"text": "m", "dx": -41, "offset": -3}, "width": 138, "height": 144, "view": {"stroke": "#999"}, "layer": [
 {"data": {"name": "dca"}, "transform": [{"filter": "datum.p=='m' && datum.s=='a'"}], "mark": {"type": "line", "color": "black", "strokeWidth": 1, "clip": true}, "encoding": {"x": {"field": "t", "type": "quantitative", "scale": {"domain": [0, 1], "nice": false}, "axis": {"title": "Threshold", "titlePadding": 0, "tickCount": 100, "values": [0,0.1,0.2,0.3,0.4,0.5,0.6,0.7,0.8,0.9,1], "labelExpr": "round(datum.value*10)%2==0 ? format(datum.value,'.1f') : ''", "tickSize": {"condition": {"test": "round(datum.value*10)%2==1", "value": 2}, "value": 4}}}, "y": {"field": "nb", "type": "quantitative", "scale": {"domain": [-0.008, 0.2], "nice": false}, "axis": {"title": "Benifit", "tickCount": 100, "values": [0,0.025,0.05,0.075,0.1,0.125,0.15,0.175,0.2], "labelExpr": "round(datum.value*40)%2==0 ? format(datum.value,'.2f') : ''", "tickSize": {"condition": {"test": "round(datum.value*40)%2==1", "value": 2}, "value": 4}}}}},
 {"data": {"values": [{}]}, "mark": {"type": "rule", "color": "black", "strokeDash": [4, 3], "strokeWidth": 1}, "encoding": {"y": {"datum": 0}}},
 {"data": {"name": "dca"}, "transform": [{"filter": "datum.p=='m' && datum.s=='m'"}], "mark": {"type": "line", "color": "#1F2FCF", "strokeWidth": 1, "clip": true}, "encoding": {"x": {"field": "t", "type": "quantitative"}, "y": {"field": "nb", "type": "quantitative"}}},
 {"data": {"values": [{}]}, "mark": {"type": "rule", "color": "black", "strokeWidth": 1}, "encoding": {"x": {"datum": 0.593}, "x2": {"datum": 0.69}, "y": {"datum": 0.1884}}},
 {"data": {"values": [{}]}, "mark": {"type": "rule", "color": "black", "strokeWidth": 1, "strokeDash": [4, 3]}, "encoding": {"x": {"datum": 0.593}, "x2": {"datum": 0.655}, "y": {"datum": 0.1744}}},
 {"data": {"values": [{}]}, "mark": {"type": "rule", "color": "#1F2FCF", "strokeWidth": 1}, "encoding": {"x": {"datum": 0.533}, "x2": {"datum": 0.667}, "y": {"datum": 0.1615}}},
 {"data": {"values": [{}]}, "mark": {"type": "text", "text": "Treat All", "fontSize": 8, "align": "center", "baseline": "middle", "color": "#000"}, "encoding": {"x": {"datum": 0.815}, "y": {"datum": 0.1884}}},
 {"data": {"values": [{}]}, "mark": {"type": "text", "text": "Treat None", "fontSize": 8, "align": "center", "baseline": "middle", "color": "#000"}, "encoding": {"x": {"datum": 0.815}, "y": {"datum": 0.1744}}},
 {"data": {"values": [{}]}, "mark": {"type": "text", "text": "Model(SB)", "fontSize": 8, "align": "right", "baseline": "middle", "color": "#000"}, "encoding": {"x": {"datum": 0.952}, "y": {"datum": 0.1615}}},
 {"data": {"values": [{}]}, "mark": {"type": "text", "text": "SB)", "fontSize": 8, "align": "right", "baseline": "middle", "color": "#2E3FD8"}, "encoding": {"x": {"datum": 0.952}, "y": {"datum": 0.1615}}},
 {"data": {"values": [{}]}, "mark": {"type": "text", "text": ")", "fontSize": 8, "align": "right", "baseline": "middle", "color": "#000"}, "encoding": {"x": {"datum": 0.952}, "y": {"datum": 0.1615}}}
]},
{"title": {"text": "n", "dx": -41, "offset": -3}, "width": 138, "height": 144, "view": {"stroke": "#999"}, "layer": [
 {"data": {"name": "dca"}, "transform": [{"filter": "datum.p=='n' && datum.s=='a'"}], "mark": {"type": "line", "color": "black", "strokeWidth": 1, "clip": true}, "encoding": {"x": {"field": "t", "type": "quantitative", "scale": {"domain": [0, 1], "nice": false}, "axis": {"title": "Threshold", "titlePadding": 0, "tickCount": 100, "values": [0,0.1,0.2,0.3,0.4,0.5,0.6,0.7,0.8,0.9,1], "labelExpr": "round(datum.value*10)%2==0 ? format(datum.value,'.1f') : ''", "tickSize": {"condition": {"test": "round(datum.value*10)%2==1", "value": 2}, "value": 4}}}, "y": {"field": "nb", "type": "quantitative", "scale": {"domain": [-0.01, 0.6], "nice": false}, "axis": {"title": "Benifit", "tickCount": 100, "values": [0,0.1,0.2,0.3,0.4,0.5,0.6], "labelExpr": "round(datum.value*10)%2==0 ? format(datum.value,'.1f') : ''", "tickSize": {"condition": {"test": "round(datum.value*10)%2==1", "value": 2}, "value": 4}}}}},
 {"data": {"values": [{}]}, "mark": {"type": "rule", "color": "black", "strokeDash": [4, 3], "strokeWidth": 1}, "encoding": {"y": {"datum": 0}}},
 {"data": {"name": "dca"}, "transform": [{"filter": "datum.p=='n' && datum.s=='m'"}], "mark": {"type": "line", "color": "#F28232", "strokeWidth": 1, "clip": true}, "encoding": {"x": {"field": "t", "type": "quantitative"}, "y": {"field": "nb", "type": "quantitative"}}},
 {"data": {"values": [{}]}, "mark": {"type": "rule", "color": "black", "strokeWidth": 1}, "encoding": {"x": {"datum": 0.593}, "x2": {"datum": 0.69}, "y": {"datum": 0.5658}}},
 {"data": {"values": [{}]}, "mark": {"type": "rule", "color": "black", "strokeWidth": 1, "strokeDash": [4, 3]}, "encoding": {"x": {"datum": 0.593}, "x2": {"datum": 0.655}, "y": {"datum": 0.525}}},
 {"data": {"values": [{}]}, "mark": {"type": "rule", "color": "#F28232", "strokeWidth": 1}, "encoding": {"x": {"datum": 0.511}, "x2": {"datum": 0.645}, "y": {"datum": 0.4872}}},
 {"data": {"values": [{}]}, "mark": {"type": "text", "text": "Treat All", "fontSize": 8, "align": "center", "baseline": "middle", "color": "#000"}, "encoding": {"x": {"datum": 0.815}, "y": {"datum": 0.5658}}},
 {"data": {"values": [{}]}, "mark": {"type": "text", "text": "Treat None", "fontSize": 8, "align": "center", "baseline": "middle", "color": "#000"}, "encoding": {"x": {"datum": 0.815}, "y": {"datum": 0.525}}},
 {"data": {"values": [{}]}, "mark": {"type": "text", "text": "Model(NSR)", "fontSize": 8, "align": "right", "baseline": "middle", "color": "#000"}, "encoding": {"x": {"datum": 0.974}, "y": {"datum": 0.4872}}},
 {"data": {"values": [{}]}, "mark": {"type": "text", "text": "NSR)", "fontSize": 8, "align": "right", "baseline": "middle", "color": "#F28232"}, "encoding": {"x": {"datum": 0.974}, "y": {"datum": 0.4872}}},
 {"data": {"values": [{}]}, "mark": {"type": "text", "text": ")", "fontSize": 8, "align": "right", "baseline": "middle", "color": "#000"}, "encoding": {"x": {"datum": 0.974}, "y": {"datum": 0.4872}}}
]},
{"title": {"text": "o", "dx": -41, "offset": -3}, "width": 138, "height": 144, "view": {"stroke": "#999"}, "layer": [
 {"data": {"name": "dca"}, "transform": [{"filter": "datum.p=='o' && datum.s=='a'"}], "mark": {"type": "line", "color": "black", "strokeWidth": 1, "clip": true}, "encoding": {"x": {"field": "t", "type": "quantitative", "scale": {"domain": [0, 1], "nice": false}, "axis": {"title": "Threshold", "titlePadding": 0, "tickCount": 100, "values": [0,0.1,0.2,0.3,0.4,0.5,0.6,0.7,0.8,0.9,1], "labelExpr": "round(datum.value*10)%2==0 ? format(datum.value,'.1f') : ''", "tickSize": {"condition": {"test": "round(datum.value*10)%2==1", "value": 2}, "value": 4}}}, "y": {"field": "nb", "type": "quantitative", "scale": {"domain": [-0.01, 0.1], "nice": false}, "axis": {"title": "Benifit", "tickCount": 100, "values": [0,0.025,0.05,0.075,0.1], "labelExpr": "round(datum.value*40)%2==0 ? format(datum.value,'.2f') : ''", "tickSize": {"condition": {"test": "round(datum.value*40)%2==1", "value": 2}, "value": 4}}}}},
 {"data": {"values": [{}]}, "mark": {"type": "rule", "color": "black", "strokeDash": [4, 3], "strokeWidth": 1}, "encoding": {"y": {"datum": 0}}},
 {"data": {"name": "dca"}, "transform": [{"filter": "datum.p=='o' && datum.s=='m'"}], "mark": {"type": "line", "color": "#B5651D", "strokeWidth": 1, "clip": true}, "encoding": {"x": {"field": "t", "type": "quantitative"}, "y": {"field": "nb", "type": "quantitative"}}},
 {"data": {"values": [{}]}, "mark": {"type": "rule", "color": "black", "strokeWidth": 1}, "encoding": {"x": {"datum": 0.593}, "x2": {"datum": 0.69}, "y": {"datum": 0.0938}}},
 {"data": {"values": [{}]}, "mark": {"type": "rule", "color": "black", "strokeWidth": 1, "strokeDash": [4, 3]}, "encoding": {"x": {"datum": 0.593}, "x2": {"datum": 0.655}, "y": {"datum": 0.0865}}},
 {"data": {"values": [{}]}, "mark": {"type": "rule", "color": "#B5651D", "strokeWidth": 1}, "encoding": {"x": {"datum": 0.533}, "x2": {"datum": 0.667}, "y": {"datum": 0.0797}}},
 {"data": {"values": [{}]}, "mark": {"type": "text", "text": "Treat All", "fontSize": 8, "align": "center", "baseline": "middle", "color": "#000"}, "encoding": {"x": {"datum": 0.815}, "y": {"datum": 0.0938}}},
 {"data": {"values": [{}]}, "mark": {"type": "text", "text": "Treat None", "fontSize": 8, "align": "center", "baseline": "middle", "color": "#000"}, "encoding": {"x": {"datum": 0.815}, "y": {"datum": 0.0865}}},
 {"data": {"values": [{}]}, "mark": {"type": "text", "text": "Model(SA)", "fontSize": 8, "align": "right", "baseline": "middle", "color": "#000"}, "encoding": {"x": {"datum": 0.952}, "y": {"datum": 0.0797}}},
 {"data": {"values": [{}]}, "mark": {"type": "text", "text": "SA)", "fontSize": 8, "align": "right", "baseline": "middle", "color": "#C87830"}, "encoding": {"x": {"datum": 0.952}, "y": {"datum": 0.0797}}},
 {"data": {"values": [{}]}, "mark": {"type": "text", "text": ")", "fontSize": 8, "align": "right", "baseline": "middle", "color": "#000"}, "encoding": {"x": {"datum": 0.952}, "y": {"datum": 0.0797}}}
]}
],
"config": {
 "font": "Liberation Sans",
 "view": {"stroke": null},
 "axis": {"grid": false, "labelFontSize": 12, "titleFontSize": 11, "titleFontWeight": "normal", "labelColor": "#000", "titleColor": "#000", "domainColor": "#000", "tickColor": "#000", "tickSize": 4, "labelPadding": 2, "labelFlush": false, "labelOverlap": false, "titlePadding": 1},
 "axisY": {"minExtent": 29, "maxExtent": 29},
 "title": {"anchor": "start", "frame": "group", "fontSize": 11, "fontWeight": "normal", "color": "#000"}
}
}
